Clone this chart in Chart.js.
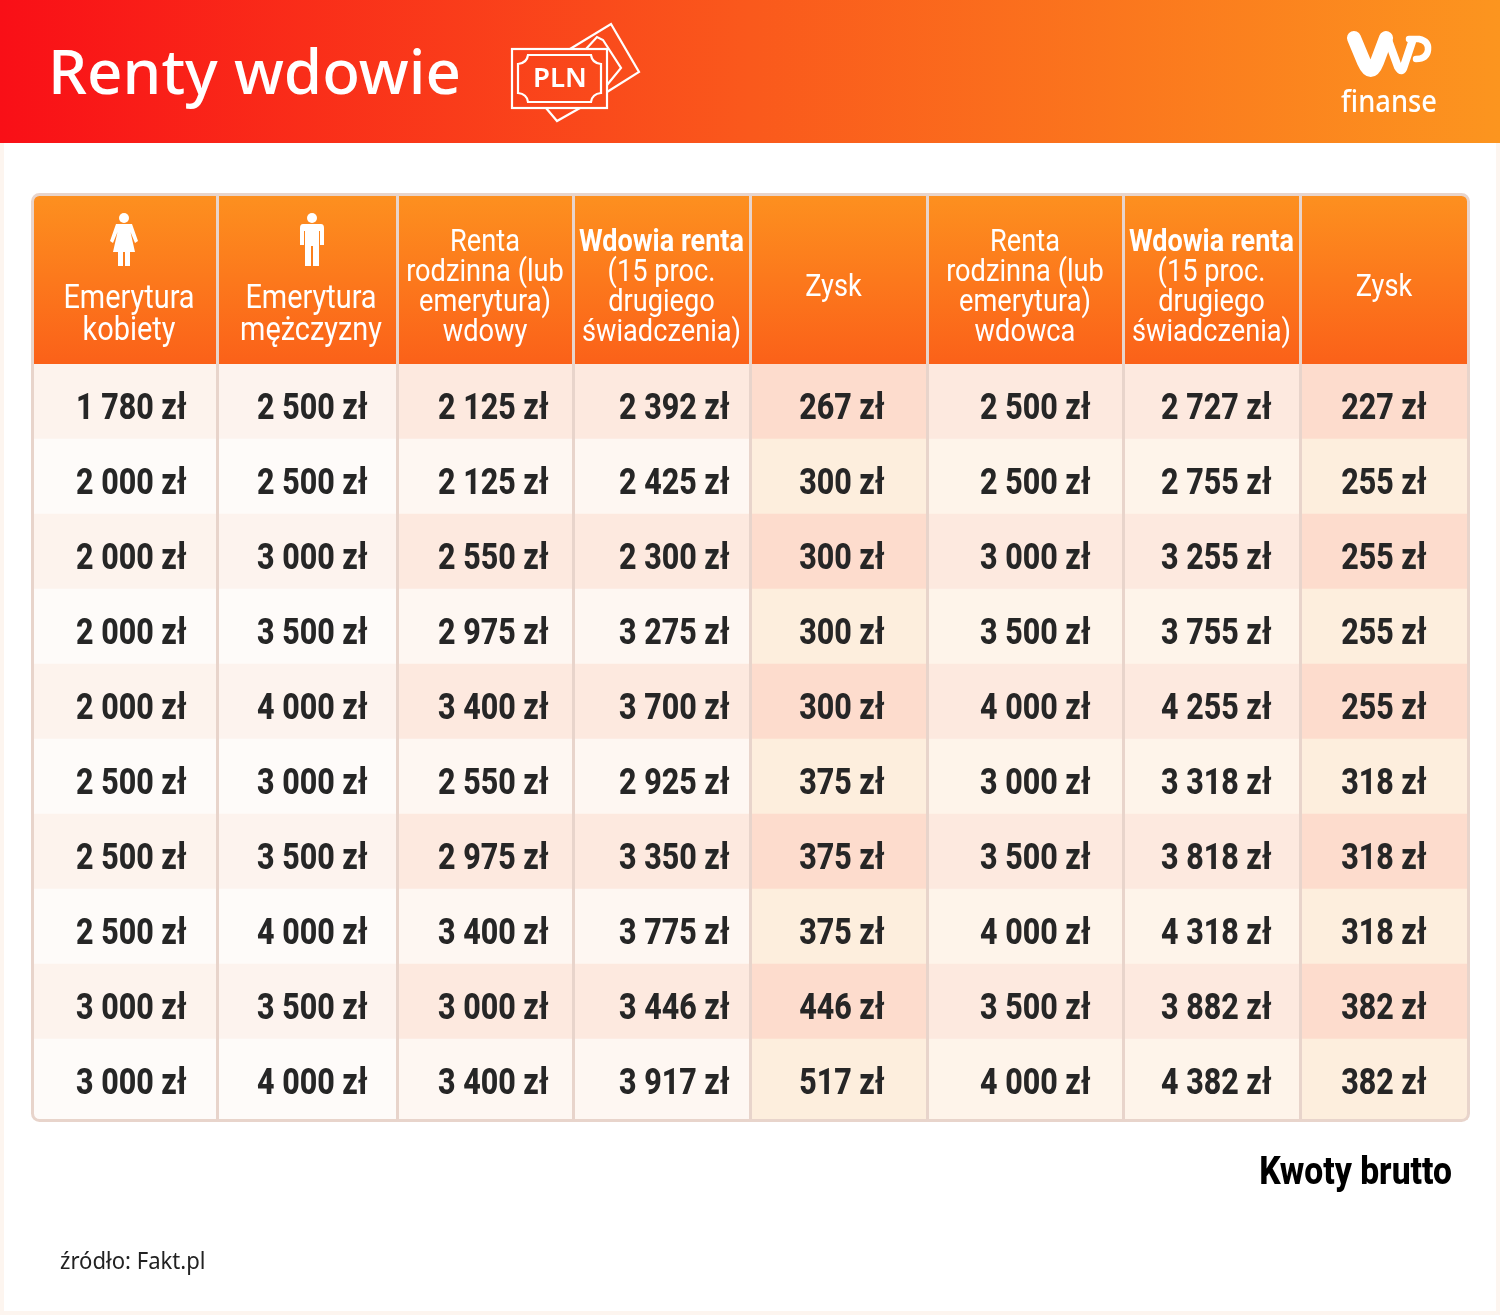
<!DOCTYPE html>
<html lang="pl"><head><meta charset="utf-8">
<style>html,body{margin:0;padding:0;background:#fff}canvas{display:block}</style>
<script src="https://cdn.jsdelivr.net/npm/chart.js@4"></script>
</head><body><canvas id="c" width="1500" height="1315"></canvas>
<script>
const rowLabels = ['1','2','3','4','5','6','7','8','9','10'];
const emeryturaKobiety = [1780,2000,2000,2000,2000,2500,2500,2500,3000,3000];
const emeryturaMezczyzny = [2500,2500,3000,3500,4000,3000,3500,4000,3500,4000];
const rentaWdowy = [2125,2125,2550,2975,3400,2550,2975,3400,3000,3400];
const wdowiaRentaWdowy = [2392,2425,2300,3275,3700,2925,3350,3775,3446,3917];
const zyskWdowy = [267,300,300,300,300,375,375,375,446,517];
const rentaWdowca = [2500,2500,3000,3500,4000,3000,3500,4000,3500,4000];
const wdowiaRentaWdowca = [2727,2755,3255,3755,4255,3318,3818,4318,3882,4382];
const zyskWdowca = [227,255,255,255,255,318,318,318,382,382];
const columnValues = [emeryturaKobiety,emeryturaMezczyzny,rentaWdowy,wdowiaRentaWdowy,zyskWdowy,rentaWdowca,wdowiaRentaWdowca,zyskWdowca];

const titleText = 'Renty wdowie';
const noteText = 'Kwoty brutto';
const sourceText = 'źródło: Fakt.pl';
const headers = [
 [{t:'Emerytura',y:296},{t:'kobiety',y:328}],
 [{t:'Emerytura',y:296},{t:'mężczyzny',y:328}],
 [{t:'Renta',y:240},{t:'rodzinna (lub',y:270},{t:'emerytura)',y:300},{t:'wdowy',y:330}],
 [{t:'Wdowia renta',y:240,b:1},{t:'(15 proc.',y:270},{t:'drugiego',y:300},{t:'świadczenia)',y:330}],
 [{t:'Zysk',y:285}],
 [{t:'Renta',y:240},{t:'rodzinna (lub',y:270},{t:'emerytura)',y:300},{t:'wdowca',y:330}],
 [{t:'Wdowia renta',y:240,b:1},{t:'(15 proc.',y:270},{t:'drugiego',y:300},{t:'świadczenia)',y:330}],
 [{t:'Zysk',y:285}]
];

// layout (not data)
const colWidths = [184,180,176,177,177,196,177,168];
const headerShift = [4,4,0,0,-5,0,0,0];
const textRight = [186.5,367.5,548.5,729.5,884.5,1090.5,1271.5,1426.5];
const oddColors = ['#fdf3ed','#fdf3ee','#fde9df','#fde9df','#fddccd','#fde9df','#fde9df','#fddccd'];
const evenColors = ['#fefbf9','#fefbf9','#fef7f2','#fef7f2','#fdeedd','#fef4ea','#fef4ea','#fdeedd'];
const SEP = '#e8d4cb';
const T = {l:33,r:1468,top:195,head:364,bottom:1120};
const CX = 0.85;

function txt(ctx,s,x,y,size,weight,color,align,sx,family){
  ctx.save();
  ctx.font = `${weight} ${size}px ${family||'Roboto'}`;
  ctx.fillStyle = color; ctx.textBaseline='middle'; ctx.textAlign=align||'center';
  ctx.translate(x,y); ctx.scale(sx||CX,1);
  ctx.fillText(s,0,0);
  ctx.restore();
}
function rr(ctx,x,y,w,h,tl,tr,br,bl){ctx.beginPath();ctx.roundRect(x,y,w,h,[tl,tr,br,bl]);}

function drawBanner(ctx){
  const g=ctx.createLinearGradient(0,0,1500,0);
  g.addColorStop(0,'#f90f17');g.addColorStop(.5,'#fa591c');g.addColorStop(1,'#fc951f');
  ctx.fillStyle=g;ctx.fillRect(0,0,1500,143);
  txt(ctx,titleText,48,76,62,500,'#fff','left',.998,'"Noto Sans"');
  // banknote icon
  ctx.save();ctx.strokeStyle='#fff';ctx.lineWidth=2.2;ctx.lineJoin='miter';
  ctx.beginPath();ctx.moveTo(570,49);ctx.lineTo(611,24);ctx.lineTo(639,72);ctx.lineTo(607,92);ctx.moveTo(546,108);ctx.lineTo(557,121);ctx.lineTo(580,108);ctx.stroke();
  ctx.beginPath();ctx.moveTo(586,49);ctx.lineTo(597,37);ctx.lineTo(603,40);ctx.lineTo(621,68);ctx.lineTo(607,85);ctx.stroke();
  ctx.strokeRect(512,49,95,59);
  ctx.beginPath();
  ctx.moveTo(528,55);ctx.lineTo(591,55);ctx.quadraticCurveTo(592,63,601,64);ctx.lineTo(601,93);ctx.quadraticCurveTo(592,94,591,102);
  ctx.lineTo(528,102);ctx.quadraticCurveTo(527,94,518,93);ctx.lineTo(518,64);ctx.quadraticCurveTo(527,63,528,55);ctx.closePath();ctx.stroke();
  ctx.restore();
  txt(ctx,'PLN',560,79,27,600,'#fff','center',1.02,'"Noto Sans"');
  // logo
  ctx.save();ctx.strokeStyle='#fff';ctx.lineCap='round';ctx.lineJoin='round';
  ctx.lineWidth=14;ctx.beginPath();ctx.moveTo(1354,38);ctx.lineTo(1364,62);ctx.quadraticCurveTo(1371,78,1377,62);ctx.lineTo(1386,38);ctx.stroke();
  ctx.lineWidth=8;ctx.beginPath();ctx.moveTo(1387,37);ctx.lineTo(1398,67);ctx.quadraticCurveTo(1402,74,1404,66);ctx.lineTo(1412,42);ctx.stroke();
  ctx.lineWidth=6.5;ctx.beginPath();ctx.moveTo(1409,39);ctx.lineTo(1419,39);ctx.quadraticCurveTo(1429,41,1428,50);ctx.quadraticCurveTo(1427,59,1416,59);ctx.stroke();
  ctx.restore();
  txt(ctx,'finanse',1389,103,30,500,'#fff','center',.91,'"Noto Sans"');
}
function femaleIcon(ctx,cx){
  ctx.fillStyle='#fff';
  ctx.beginPath();ctx.arc(cx,218,5,0,Math.PI*2);ctx.fill();
  ctx.beginPath();ctx.moveTo(cx-8,224);ctx.lineTo(cx+8,224);ctx.lineTo(cx+14,241);ctx.lineTo(cx+11,243);ctx.lineTo(cx+6.5,232);ctx.lineTo(cx+11,252);ctx.lineTo(cx+6,252);ctx.lineTo(cx+6,266);ctx.lineTo(cx+1,266);ctx.lineTo(cx+1,252);ctx.lineTo(cx-1,252);ctx.lineTo(cx-1,266);ctx.lineTo(cx-6,266);ctx.lineTo(cx-6,252);ctx.lineTo(cx-11,252);ctx.lineTo(cx-6.5,232);ctx.lineTo(cx-11,243);ctx.lineTo(cx-14,241);ctx.closePath();ctx.fill();
}
function maleIcon(ctx,cx){
  ctx.fillStyle='#fff';
  ctx.beginPath();ctx.arc(cx,218,5,0,Math.PI*2);ctx.fill();
  ctx.beginPath();ctx.moveTo(cx-9,224);ctx.lineTo(cx+9,224);ctx.quadraticCurveTo(cx+12,224,cx+12,228);ctx.lineTo(cx+12,245);ctx.lineTo(cx+8,245);ctx.lineTo(cx+8,231);ctx.lineTo(cx+7,231);ctx.lineTo(cx+7,266);ctx.lineTo(cx+1,266);ctx.lineTo(cx+1,246);ctx.lineTo(cx-1,246);ctx.lineTo(cx-1,266);ctx.lineTo(cx-7,266);ctx.lineTo(cx-7,231);ctx.lineTo(cx-8,231);ctx.lineTo(cx-8,245);ctx.lineTo(cx-12,245);ctx.lineTo(cx-12,228);ctx.quadraticCurveTo(cx-12,224,cx-9,224);ctx.closePath();ctx.fill();
}

const edges = colWidths.reduce((a,w)=>(a.push(a[a.length-1]+w),a),[0]);
const tablePlugin = {
  id:'table',
  beforeDraw(chart){
    const ctx=chart.ctx;
    ctx.save();
    ctx.fillStyle='#fff';ctx.fillRect(0,0,1500,1315);
    ctx.fillStyle='#fdf5ef';ctx.fillRect(0,143,4,1172);ctx.fillRect(1496,143,4,1172);ctx.fillRect(0,1311,1500,4);
    drawBanner(ctx);
    ctx.restore();
  },
  beforeDatasetsDraw(chart){
    const ctx=chart.ctx; const xs=chart.scales.x;
    ctx.save();
    chart.data.datasets.forEach((d,i)=>{
      const a=xs.getPixelForValue(edges[i]),b=xs.getPixelForValue(edges[i+1]);
      ctx.fillStyle=evenColors[i];
      ctx.fillRect(a,T.head+740,b-a,T.bottom-T.head-740);
    });
    const g=ctx.createLinearGradient(0,T.top,0,T.head);
    g.addColorStop(0,'#fd901f');g.addColorStop(1,'#fb6119');
    ctx.fillStyle=g;rr(ctx,T.l,T.top,T.r-T.l,T.head-T.top,6,6,0,0);ctx.fill();
    ctx.restore();
  },
  afterDatasetsDraw(chart){
    const ctx=chart.ctx; const xs=chart.scales.x;
    ctx.save();
    ctx.strokeStyle=SEP;ctx.lineWidth=3;
    for(let i=1;i<edges.length-1;i++){
      const x=xs.getPixelForValue(edges[i])+.5;
      ctx.beginPath();ctx.moveTo(x,T.top);ctx.lineTo(x,T.bottom);ctx.stroke();
    }
    rr(ctx,T.l-.5,T.top-.5,T.r-T.l+1,T.bottom-T.top+1,7,7,7,7);ctx.stroke();
    headers.forEach((lines,i)=>{
      const cx=(xs.getPixelForValue(edges[i])+xs.getPixelForValue(edges[i+1]))/2+headerShift[i];
      const big=i<2;
      lines.forEach(l=>txt(ctx,l.t,cx,l.y+3,big?34:32,l.b?700:400,'#fff','center',l.b?.845:.85));
    });
    femaleIcon(ctx,124);maleIcon(ctx,312);
    const ys=chart.scales.y;
    columnValues.forEach((vals,c)=>{
      vals.forEach((v,r)=>{
        const s=(v>=1000?Math.floor(v/1000)+' '+String(v%1000).padStart(3,'0'):String(v))+' zł';
        txt(ctx,s,textRight[c],ys.getPixelForValue(r)+8,36,800,'#262626','right',.845);
      });
    });
    txt(ctx,noteText,1452,1174,38,800,'#000','right',.885);
    txt(ctx,sourceText,60,1262,23,400,'#222','left',.96,'"Noto Sans"');
    ctx.restore();
  }
};

new Chart(document.getElementById('c'),{
  type:'bar',
  data:{labels:rowLabels,datasets:columnValues.map((vals,c)=>({
    label:'k'+c,
    data:vals.map(()=>[edges[c],edges[c+1]]),
    backgroundColor:vals.map((_,r)=>r%2==0?oddColors[c]:evenColors[c]),
    borderWidth:0,barPercentage:1,categoryPercentage:1,grouped:false
  }))},
  options:{
    indexAxis:'y',responsive:false,animation:false,devicePixelRatio:1,
    layout:{padding:{left:33,right:32,top:364,bottom:201}},
    plugins:{legend:{display:false},tooltip:{enabled:false},title:{display:false}},
    scales:{
      x:{type:'linear',min:0,max:edges[edges.length-1],display:false},
      y:{type:'category',display:false,offset:true}
    }
  },
  plugins:[tablePlugin]
});
</script></body></html>
